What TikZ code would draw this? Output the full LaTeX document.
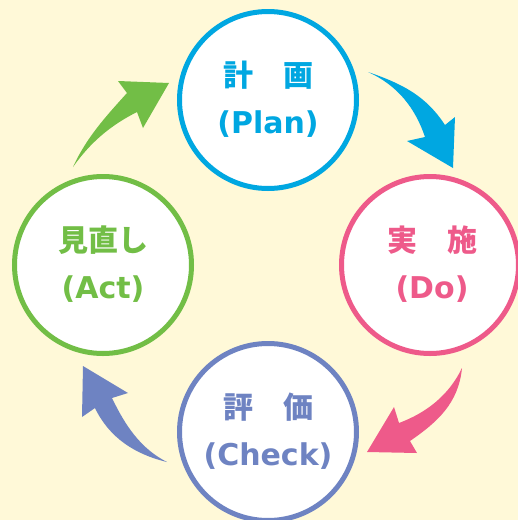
\documentclass[tikz,border=0pt]{standalone}
\usepackage{fontspec}
\newfontfamily\jp{Noto Sans CJK JP}
\newfontfamily\lat{DejaVu Sans}
\definecolor{bg}{HTML}{FFF9D8}
\definecolor{cplan}{HTML}{00A7E1}
\definecolor{cdo}{HTML}{EE5A8A}
\definecolor{ccheck}{HTML}{6E83C2}
\definecolor{cact}{HTML}{72BE46}
\begin{document}
\begin{tikzpicture}[x=1pt,y=-1pt,
  phase/.style={circle, draw=#1, line width=5pt, fill=white, minimum size=177pt, inner sep=0pt},
  jplbl/.style={text=#1, font=\jp\bfseries\fontsize{30}{30}\selectfont, anchor=base, inner sep=0pt},
  enlbl/.style={text=#1, font=\lat\bfseries\fontsize{30}{30}\selectfont, anchor=base, inner sep=0pt}]
\fill[bg] (0,0) rectangle (518,520);
\useasboundingbox (0,0) rectangle (518,520);
% circles
\node[phase=cplan] (plan) at (268,100) {};
\node[phase=cdo] (do) at (430,265) {};
\node[phase=ccheck] (check) at (268,432) {};
\node[phase=cact] (act) at (103,265) {};
% labels
\node[jplbl=cplan] (planjp) at (268,86) {計　画};
\node[enlbl=cplan] (planen) at (268,133) {(Plan)};
\node[jplbl=cdo] (dojp) at (432,251) {実　施};
\node[enlbl=cdo] (doen) at (432,298) {(Do)};
\node[jplbl=ccheck] (checkjp) at (268,418) {評　価};
\node[enlbl=ccheck] (checken) at (268,465) {(Check)};
\node[jplbl=cact] (actjp) at (103,251) {見直し};
\node[enlbl=cact] (acten) at (103,298) {(Act)};
% arrows
\fill[cplan] (368,72) .. controls (403,84) and (426,96) .. (445,125) -- (455,117) -- (453,168) -- (407,141) -- (425,137) .. controls (415.4,108.5) and (398,85.5) .. (368,72) -- cycle;
\fill[cdo] (462,368) .. controls (458.5,403) and (438,421.7) .. (410,441) -- (417,453) -- (367,452) -- (394,407) -- (399,423) .. controls (427,412.5) and (449,395) .. (462,368) -- cycle;
\fill[ccheck] (167,462) .. controls (135,454.4) and (109.2,437.7) .. (95,408) -- (82,417) -- (83,366) -- (128,393) -- (112,398) .. controls (125,425) and (140.3,448.5) .. (167,462) -- cycle;
\fill[cact] (73,167) .. controls (86.4,137.6) and (105.6,116.7) .. (127,93) -- (118,81) -- (169,83) -- (143,128) -- (137,112) .. controls (110.3,125.5) and (90.4,142.4) .. (73,167) -- cycle;
\end{tikzpicture}
\end{document}
